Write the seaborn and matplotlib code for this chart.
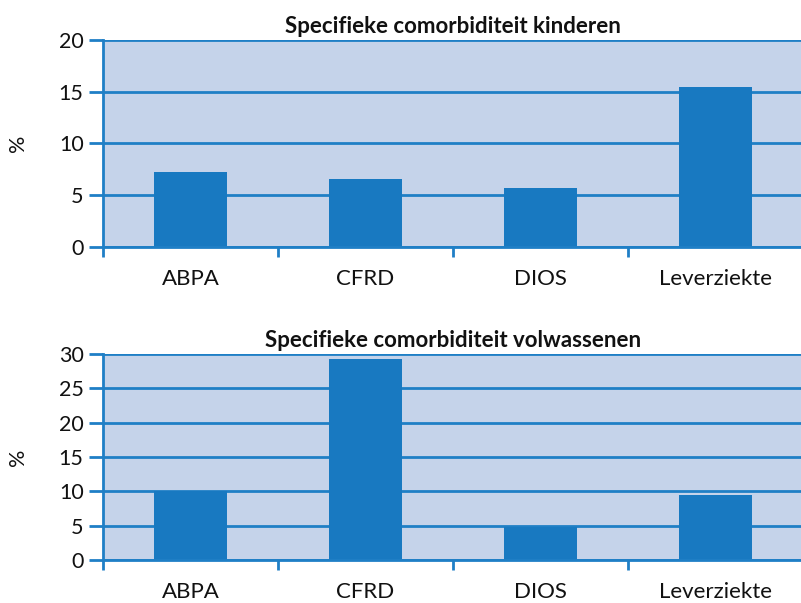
import numpy as np
import pandas as pd
import matplotlib
matplotlib.use("Agg")
import matplotlib.pyplot as plt
import seaborn as sns

# DATA
categories = ["ABPA", "CFRD", "DIOS", "Leverziekte"]
kinderen = [7.2, 6.55, 5.65, 15.4]
volwassenen = [10.0, 29.3, 4.8, 9.5]
titles = ["Specifieke comorbiditeit kinderen", "Specifieke comorbiditeit volwassenen"]
y_ticks_top = [0, 5, 10, 15, 20]
y_ticks_bottom = [0, 5, 10, 15, 20, 25, 30]

# STYLE
sns.set_theme(style="white")
plt.rcParams["font.family"] = ["Lato", "DejaVu Sans"]

BAR = "#1879c1"
BG = "#c5d3ea"
LINE = "#1f7fc6"
TXT = "#111111"


def draw_panel(ax, values, title, yticks):
    df = pd.DataFrame({"cat": categories, "val": values})
    ax.set_facecolor(BG)
    ax.set_axisbelow(True)
    for y in yticks:
        ax.axhline(y, color=LINE, lw=2, zorder=0)
    sns.barplot(data=df, x="cat", y="val", color=BAR, width=0.42,
                saturation=1, linewidth=0, ax=ax, zorder=2)

    ax.set_xlim(-0.5, len(categories) - 0.5)
    ax.set_ylim(0, yticks[-1])
    ax.set_yticks(yticks)
    ax.set_yticklabels([str(t) for t in yticks], fontsize=15.5, color=TXT)
    ax.tick_params(axis="y", length=10, width=2, color=LINE,
                   direction="out", pad=4, left=True)

    ax.set_xticks(range(len(categories)))
    ax.set_xticklabels(categories, fontsize=16, color=TXT)
    ax.set_xticks(np.arange(len(categories) + 1) - 0.5, minor=True)
    ax.tick_params(axis="x", which="major", length=0, pad=16)
    ax.tick_params(axis="x", which="minor", length=7, width=2,
                   color=LINE, direction="out", bottom=True)

    ax.set_xlabel("")
    ax.set_ylabel("")
    ax.set_title(title, fontsize=16, fontweight="bold", pad=5, color=TXT)

    for side in ["top", "right"]:
        ax.spines[side].set_visible(False)
    for side in ["left", "bottom"]:
        ax.spines[side].set_color(LINE)
        ax.spines[side].set_linewidth(2)


fig = plt.figure(figsize=(8.01, 6.03), dpi=100)
ax1 = fig.add_axes([0.1286, 0.591, 0.874, 0.343])
ax2 = fig.add_axes([0.1286, 0.0713, 0.874, 0.3416])

draw_panel(ax1, kinderen, titles[0], y_ticks_top)
draw_panel(ax2, volwassenen, titles[1], y_ticks_bottom)

# "%" axis labels sit far left of the tick labels
fig.text(18 / 801, 1 - 143 / 603, "%", rotation=90, fontsize=15.5,
         ha="center", va="center", color=TXT)
fig.text(18 / 801, 1 - 457 / 603, "%", rotation=90, fontsize=15.5,
         ha="center", va="center", color=TXT)

fig.savefig("out.png", dpi=100, facecolor="white")
